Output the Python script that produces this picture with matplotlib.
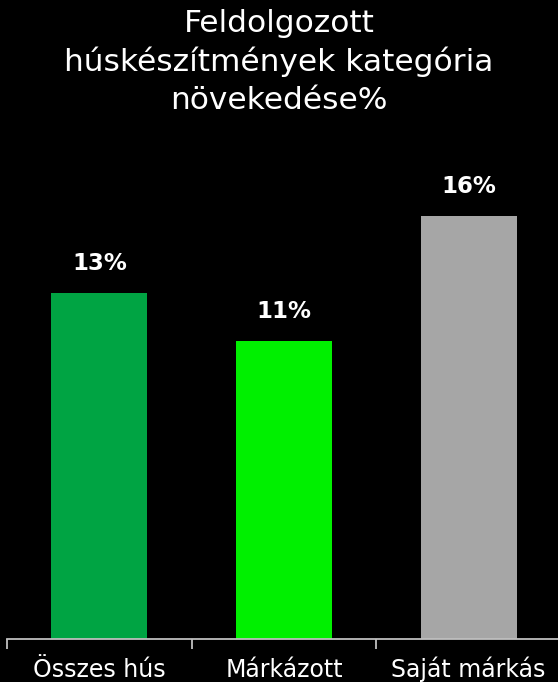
import matplotlib
matplotlib.use("Agg")
import matplotlib.pyplot as plt
import matplotlib.transforms as mtrans

categories = ["Összes hús", "Márkázott", "Saját márkás"]
values = [13.0, 11.2, 15.9]
labels = ["13%", "11%", "16%"]
colors = ["#00A443", "#00F000", "#A6A6A6"]
title = "Feldolgozott\nhúskészítmények kategória\nnövekedése%"

W, H = 558, 682
fig = plt.figure(figsize=(W / 100, H / 100), dpi=100, facecolor="black")
base_y = 639
top_y = 160
ax = fig.add_axes([7 / W, 1 - base_y / H, 554 / W, (base_y - top_y) / H])
ax.set_facecolor("black")
x = list(range(len(categories)))
ax.bar(x, values, width=0.52, color=colors)
ax.set_xlim(-0.5, 2.5)
ax.set_ylim(0, (base_y - top_y) / 26.6)
for xi, v, lab in zip(x, values, labels):
    ax.annotate(lab, (xi, v), xytext=(0, 13), textcoords="offset points",
                ha="center", va="bottom", color="white", fontsize=16.5,
                fontweight="bold", family="DejaVu Sans")
for s in ["top", "right", "left"]:
    ax.spines[s].set_visible(False)
ax.spines["bottom"].set_color("#BFBFBF")
ax.spines["bottom"].set_linewidth(1.3)
ax.set_yticks([])
ax.set_xticks([-0.5, 0.5, 1.5, 2.5])
ax.set_xticklabels([])
ax.tick_params(axis="x", length=7, width=1.3, color="#BFBFBF", direction="out")
off = mtrans.ScaledTranslation(0, -(677 - base_y) / 100, fig.dpi_scale_trans)
for xi, c in zip(x, categories):
    ax.text(xi, 0, c, transform=ax.get_xaxis_transform() + off, ha="center",
            va="baseline", color="white", fontsize=17, family="DejaVu Sans")
fig.text(0.5, 1 - 9 / H, title, ha="center", va="top", color="white",
         fontsize=22.5, family="DejaVu Sans", linespacing=1.36)
fig.savefig("out.png", dpi=100, facecolor="black")
